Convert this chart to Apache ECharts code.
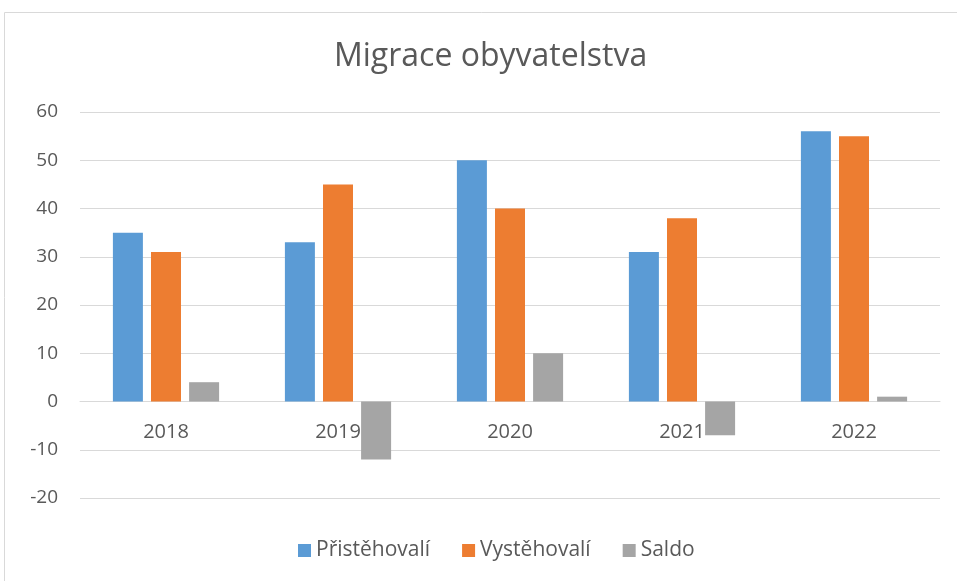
<!DOCTYPE html>
<html>
<head>
<meta charset="utf-8">
<script src="https://cdn.jsdelivr.net/npm/echarts@6/dist/echarts.min.js"></script>
<style>
  html, body { margin: 0; padding: 0; background: #fff; }
  #chart { width: 957px; height: 581px; }
</style>
</head>
<body>
<div id="chart"></div>
<script>
  // data
  var years = ['2018', '2019', '2020', '2021', '2022'];
  var pristehovali = [35, 33, 50, 31, 56];
  var vystehovali = [31, 45, 40, 38, 55];
  var saldo = [4, -12, 10, -7, 1];

  var font = 'Open Sans';
  var textColor = '#595959';

  var myChart = echarts.init(document.getElementById('chart'));
  var option = {
    animation: false,
    textStyle: { fontFamily: font },
    graphic: [{
      type: 'rect',
      shape: { x: 4.5, y: 12.5, width: 960, height: 600 },
      style: { fill: 'none', stroke: '#d9d9d9', lineWidth: 1 }
    }],
    title: {
      text: 'Migrace obyvatelstva',
      left: 329,
      top: 36,
      textStyle: { fontFamily: font, fontSize: 32, fontWeight: 'normal', color: textColor }
    },
    legend: {
      bottom: 15,
      left: 293,
      itemWidth: 13,
      itemHeight: 13,
      itemGap: 32,
      icon: 'rect',
      textStyle: { fontFamily: font, fontSize: 21, color: textColor }
    },
    grid: { left: 80, right: 17, top: 112, bottom: 83 },
    xAxis: {
      type: 'category',
      data: years,
      axisLine: { onZero: true, lineStyle: { color: '#d9d9d9', width: 1 } },
      axisTick: { show: false },
      // labels sit just under the zero line, as in the original
      axisLabel: { fontFamily: font, fontSize: 20, color: textColor, margin: -76 }
    },
    yAxis: {
      type: 'value',
      min: -20,
      max: 60,
      interval: 10,
      axisLine: { show: false },
      axisTick: { show: false },
      axisLabel: { fontFamily: font, fontSize: 19, color: textColor, margin: 22 },
      splitLine: { lineStyle: { color: '#d9d9d9', width: 1 } }
    },
    series: [
      { name: 'Přistěhovalí', type: 'bar', data: pristehovali, barWidth: 30, barGap: '27%', itemStyle: { color: '#5b9bd5' } },
      { name: 'Vystěhovalí', type: 'bar', data: vystehovali, barWidth: 30, barGap: '27%', itemStyle: { color: '#ed7d31' } },
      { name: 'Saldo', type: 'bar', data: saldo, barWidth: 30, barGap: '27%', itemStyle: { color: '#a5a5a5' } }
    ]
  };
  option && myChart.setOption(option);
</script>
</body>
</html>
